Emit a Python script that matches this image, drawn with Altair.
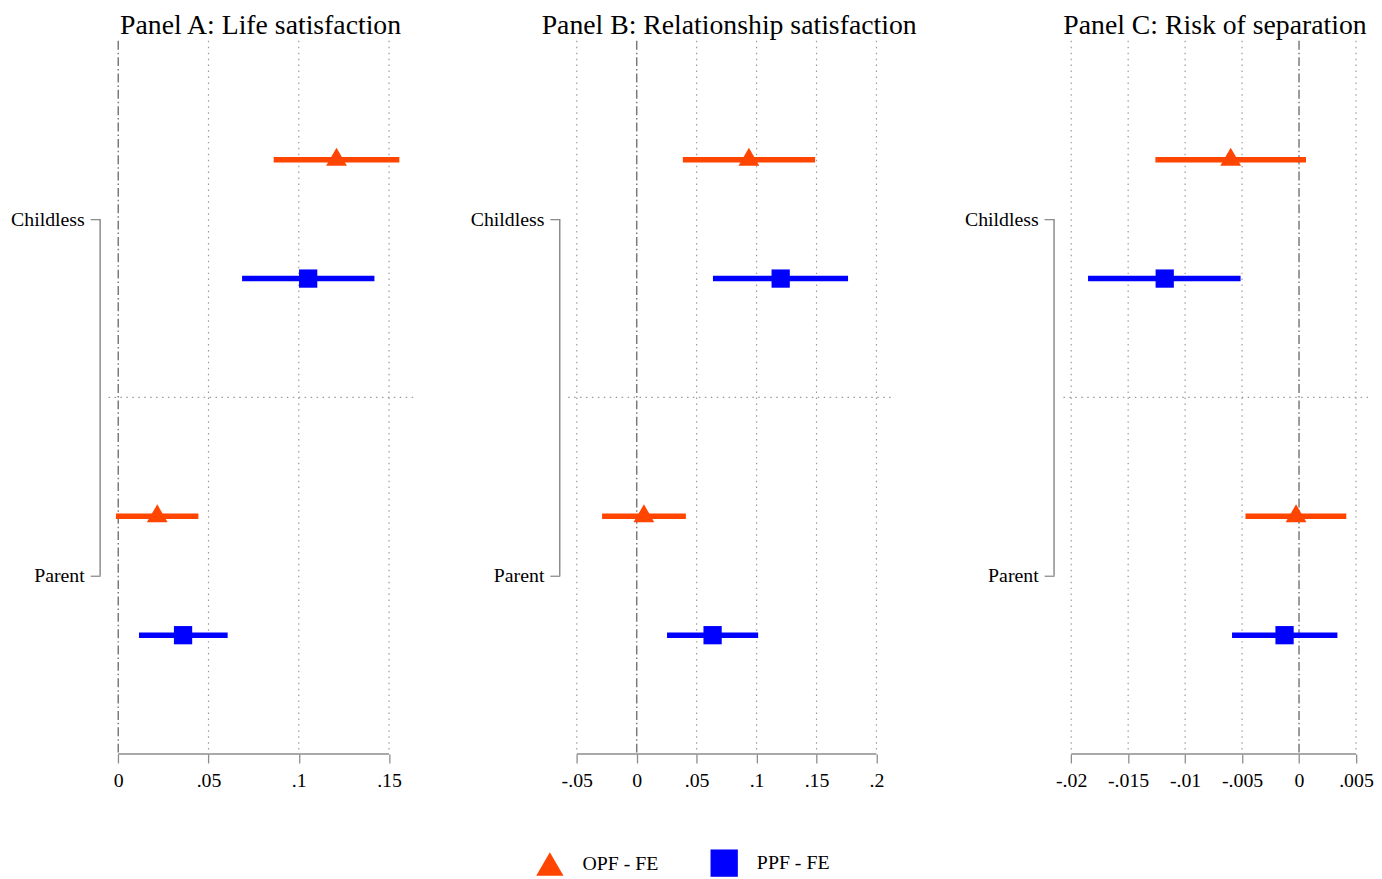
import altair as alt
import pandas as pd

# ---------------- data ----------------
groups = ["Childless", "Parent"]
series = ["OPF - FE", "PPF - FE"]
titles = ["Panel A: Life satisfaction",
          "Panel B: Relationship satisfaction",
          "Panel C: Risk of separation"]

# Panel A: Life satisfaction  (values for [Childless, Parent])
a_opf_est = [0.1209, 0.0216]
a_opf_lo = [0.0861, -0.0013]
a_opf_hi = [0.1557, 0.0444]
a_ppf_est = [0.1052, 0.0359]
a_ppf_lo = [0.0686, 0.0115]
a_ppf_hi = [0.1419, 0.0606]

# Panel B: Relationship satisfaction
b_opf_est = [0.0936, 0.0060]
b_opf_lo = [0.0385, -0.0289]
b_opf_hi = [0.1488, 0.0410]
b_ppf_est = [0.1201, 0.0633]
b_ppf_lo = [0.0636, 0.0253]
b_ppf_hi = [0.1763, 0.1013]

# Panel C: Risk of separation
c_opf_est = [-0.0060, -0.00026]
c_opf_lo = [-0.01261, -0.0047]
c_opf_hi = [0.00061, 0.00415]
c_ppf_est = [-0.01179, -0.00127]
c_ppf_lo = [-0.01852, -0.00588]
c_ppf_hi = [-0.00513, 0.00337]

a_ticks = [0, 0.05, 0.1, 0.15]
b_ticks = [-0.05, 0, 0.05, 0.1, 0.15, 0.2]
c_ticks = [-0.02, -0.015, -0.01, -0.005, 0, 0.005]

# ---------------- styling ----------------
FONT = "Liberation Serif"
GRAY = "#8c8c8c"
ORANGE = "#FF4500"
BLUE = "#0000FF"
colors = [ORANGE, BLUE]
color_scale = alt.Scale(domain=series, range=colors)
shape_scale = alt.Scale(domain=series, range=["triangle-up", "square"])

LABEL_EXPR = ("datum.value == 0 ? '0' : (datum.value < 0 ? '-' : '') + "
              "slice(format(abs(datum.value), '~g'), 1)")
Y_LABEL_EXPR = f"datum.value < 3 ? '{groups[0]}' : '{groups[1]}'"


def build_df(opf, ppf):
    rows = []
    for g, grp in enumerate(groups):
        for s, (ser, vals) in enumerate(zip(series, [opf, ppf])):
            est, lo, hi = vals
            rows.append(dict(group=grp, series=ser, est=est[g], lo=lo[g],
                             hi=hi[g], row=1 + 3 * g + s))
    return pd.DataFrame(rows)


LEGEND = alt.Legend(orient="none", legendX=432, legendY=816, direction="horizontal",
                    title=None, symbolSize=760, symbolStrokeWidth=0,
                    symbolOpacity=1, labelFont=FONT, labelFontSize=20,
                    labelColor="black", labelOffset=19, columnPadding=52,
                    padding=0)


def panel(title, df, ticks, domain, width, extra_right=0):
    xs = alt.Scale(domain=domain, nice=False, zero=False)
    ys = alt.Scale(domain=[0, 6], reverse=True, nice=False, zero=False)
    xaxis = alt.Axis(values=ticks, labelExpr=LABEL_EXPR, title=None, grid=False,
                     domain=False, tickColor=GRAY, tickWidth=1.3, tickSize=9,
                     labelPadding=8, labelFont=FONT, labelFontSize=20,
                     labelColor="black", labelFlush=False, labelOverlap=False)
    yaxis = alt.Axis(values=[1.5, 4.5], labelExpr=Y_LABEL_EXPR, title=None,
                     grid=False, domain=False, offset=8, tickSize=10,
                     tickColor=GRAY, tickWidth=1.3, labelPadding=6,
                     labelFont=FONT, labelFontSize=20, labelColor="black")

    grid_df = pd.DataFrame({"t": [t for t in ticks if t != 0]})
    grid = alt.Chart(grid_df).mark_rule(
        color="#9a9a9a", strokeDash=[1.5, 4.5], strokeWidth=1.2
    ).encode(x=alt.X("t:Q", scale=xs, axis=xaxis))

    zero = alt.Chart(pd.DataFrame({"t": [0]})).mark_rule(
        color="#7a7a7a", strokeDash=[9, 3, 1.5, 3], strokeWidth=1.5
    ).encode(x=alt.X("t:Q", scale=xs, axis=xaxis))

    mid = alt.Chart(pd.DataFrame({"r": [3]})).mark_rule(
        color="#9a9a9a", strokeDash=[1.5, 4.5], strokeWidth=1.2
    ).encode(y=alt.Y("r:Q", scale=ys, axis=yaxis))

    axis_line = alt.Chart(pd.DataFrame({"a": [ticks[0]], "b": [ticks[-1]], "r": [6]})).mark_rule(
        color=GRAY, strokeWidth=1.5
    ).encode(x=alt.X("a:Q", scale=xs, axis=xaxis), x2="b:Q",
             y=alt.Y("r:Q", scale=ys, axis=yaxis))

    bracket = alt.Chart(pd.DataFrame({"r1": [1.5], "r2": [4.5]})).mark_rule(
        color=GRAY, strokeWidth=1.5
    ).encode(x=alt.value(-8), y=alt.Y("r1:Q", scale=ys, axis=yaxis), y2="r2:Q")

    bar_layers = []
    for ser, col in zip(series, colors):
        bar_layers.append(
            alt.Chart(df).transform_filter(alt.datum.series == ser).mark_rule(
                strokeWidth=5.5, strokeCap="butt", color=col
            ).encode(
                x=alt.X("lo:Q", scale=xs, axis=xaxis), x2="hi:Q",
                y=alt.Y("row:Q", scale=ys, axis=yaxis),
            )
        )

    tri = alt.Chart(df).transform_filter(alt.datum.series == series[0]).mark_point(
        filled=True, opacity=1, size=441, yOffset=-3
    ).encode(
        x=alt.X("est:Q", scale=xs, axis=xaxis),
        y=alt.Y("row:Q", scale=ys, axis=yaxis),
        color=alt.Color("series:N", scale=color_scale, legend=LEGEND),
        shape=alt.Shape("series:N", scale=shape_scale, legend=LEGEND),
    )
    sq = alt.Chart(df).transform_filter(alt.datum.series == series[1]).mark_point(
        filled=True, opacity=1, size=340
    ).encode(
        x=alt.X("est:Q", scale=xs, axis=xaxis),
        y=alt.Y("row:Q", scale=ys, axis=yaxis),
        color=alt.Color("series:N", scale=color_scale, legend=LEGEND),
        shape=alt.Shape("series:N", scale=shape_scale, legend=LEGEND),
    )

    layers = [grid, zero, mid, axis_line, bracket] + bar_layers + [tri, sq]
    if extra_right:
        spacer = alt.Chart(pd.DataFrame({"r": [0]})).mark_rule(opacity=0).encode(
            x=alt.value(width), x2=alt.value(width + extra_right), y=alt.value(0))
        layers.append(spacer)

    return alt.layer(*layers).properties(
        width=width, height=720,
        title=alt.TitleParams(title, font=FONT, fontSize=28, fontWeight="normal",
                              color="black", anchor="middle", offset=2, dy=2),
    )


dfa = build_df((a_opf_est, a_opf_lo, a_opf_hi), (a_ppf_est, a_ppf_lo, a_ppf_hi))
dfb = build_df((b_opf_est, b_opf_lo, b_opf_hi), (b_ppf_est, b_ppf_lo, b_ppf_hi))
dfc = build_df((c_opf_est, c_opf_lo, c_opf_hi), (c_ppf_est, c_ppf_lo, c_ppf_hi))

pa = panel(titles[0], dfa, a_ticks, [-0.00565, 0.16335], 308, extra_right=10)
pb = panel(titles[1], dfb, b_ticks, [-0.0576, 0.2118], 326)
pc = panel(titles[2], dfc, c_ticks, [-0.02081, 0.00606], 309)

chart = alt.hconcat(pa, pb, pc, spacing=47).resolve_scale(
    color="shared", shape="shared"
).resolve_legend(color="shared", shape="shared").properties(
    padding={"left": 2, "top": 0, "right": 0, "bottom": 0}
).configure(background="white").configure_view(strokeWidth=0)

chart.save("out.html", embed_options={"renderer": "svg", "actions": False})
